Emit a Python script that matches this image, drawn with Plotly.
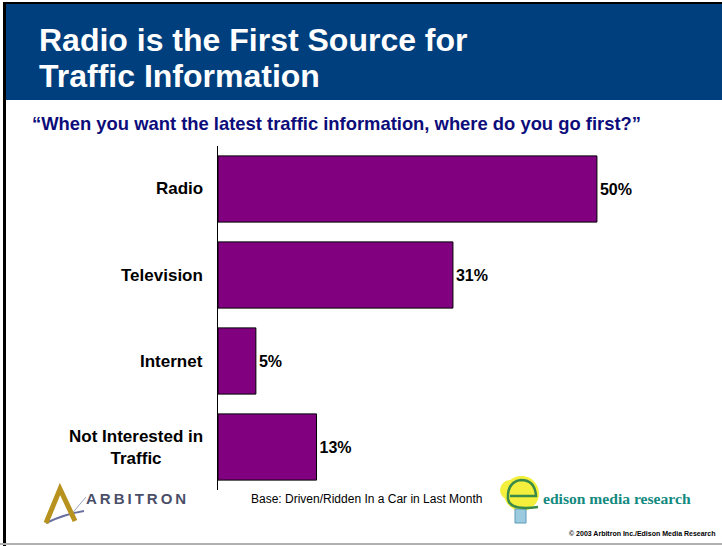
import plotly.graph_objects as go

categories = ["Radio", "Television", "Internet", "Not Interested in<br>Traffic"]
values = [50, 31, 5, 13]
value_labels = ["50%", "31%", "5%", "13%"]

W, H = 722, 546
def px(x):
    return x / W
def py(y):
    return 1 - y / H

BAR_COLOR = "#800080"
NAVY = "#003f7d"
FONT = "Liberation Sans, Arial, sans-serif"

fig = go.Figure()
fig.add_trace(go.Bar(
    y=categories, x=values, orientation="h",
    marker=dict(color=BAR_COLOR, line=dict(color="black", width=1)),
    width=0.77,
    text=value_labels, textposition="outside", cliponaxis=False,
    textfont=dict(family=FONT, size=16, color="black", weight="bold"),
    hoverinfo="skip",
))

shapes = [
    # header band
    dict(type="rect", xref="paper", yref="paper", x0=px(4), x1=1.0, y0=py(100), y1=py(3),
         fillcolor=NAVY, line=dict(width=0), layer="below"),
    # top border
    dict(type="line", xref="paper", yref="paper", x0=px(3), x1=1.0, y0=py(3), y1=py(3),
         line=dict(color="black", width=2)),
    # left border
    dict(type="line", xref="paper", yref="paper", x0=px(4.5), x1=px(4.5), y0=py(2), y1=py(546),
         line=dict(color="black", width=3)),
    # bottom gray line
    dict(type="line", xref="paper", yref="paper", x0=0, x1=1, y0=py(544), y1=py(544),
         line=dict(color="#b0b0b0", width=2)),
    # Arbitron logo (A shape)
    dict(type="path", xref="paper", yref="paper",
         path=f"M {px(46)} {py(523)} Q {px(65)} {py(514)} {px(84)} {py(511)}",
         line=dict(color="#6a70a0", width=2)),
    dict(type="path", xref="paper", yref="paper",
         path=f"M {px(70)} {py(516)} L {px(86)} {py(497)}",
         line=dict(color="#a0a4c4", width=1)),
    dict(type="path", xref="paper", yref="paper",
         path=f"M {px(46)} {py(523)} L {px(60)} {py(489)} L {px(75)} {py(521)}",
         line=dict(color="#b8921e", width=5)),
    # Edison logo blob
    dict(type="circle", xref="paper", yref="paper", x0=px(504), x1=px(539), y0=py(511), y1=py(476),
         fillcolor="#f3ef3c", line=dict(width=0)),
    dict(type="circle", xref="paper", yref="paper", x0=px(500), x1=px(520), y0=py(500), y1=py(480),
         fillcolor="#f3ef3c", line=dict(width=0)),
    dict(type="rect", xref="paper", yref="paper", x0=px(515), x1=px(526), y0=py(523), y1=py(509),
         fillcolor="#9ccbe0", line=dict(color="#5a9ab8", width=1)),
    dict(type="path", xref="paper", yref="paper",
         path=f"M {px(510)} {py(496)} L {px(536)} {py(496)} Q {px(535)} {py(480)} {px(521)} {py(480)} Q {px(507)} {py(482)} {px(508)} {py(499)} Q {px(510)} {py(511)} {px(538)} {py(507)}",
         line=dict(color="#3a8a4a", width=2.5)),
]

annotations = [
    dict(text="Radio is the First Source for", x=px(37), y=py(40), xref="paper", yref="paper",
         xanchor="left", yanchor="middle", showarrow=False,
         font=dict(family=FONT, size=32, color="white", weight="bold")),
    dict(text="Traffic Information", x=px(37), y=py(76), xref="paper", yref="paper",
         xanchor="left", yanchor="middle", showarrow=False,
         font=dict(family=FONT, size=32, color="white", weight="bold")),
    dict(text="\u201cWhen you want the latest traffic information, where do you go first?\u201d",
         x=px(30), y=py(124), xref="paper", yref="paper", xanchor="left", yanchor="middle",
         showarrow=False, font=dict(family=FONT, size=18.4, color="#0c0c7a", weight="bold")),
    dict(text="\u2009".join("ARBITRON"), x=px(84), y=py(498), xref="paper", yref="paper", xanchor="left",
         yanchor="middle", showarrow=False,
         font=dict(family=FONT, size=15, color="#4a4e68", weight="bold")),
    dict(text="Base: Driven/Ridden In a Car in Last Month", x=px(249), y=py(499), xref="paper",
         yref="paper", xanchor="left", yanchor="middle", showarrow=False,
         font=dict(family=FONT, size=12, color="black")),
    dict(text="edison media research", x=px(541), y=py(498), xref="paper", yref="paper",
         xanchor="left", yanchor="middle", showarrow=False,
         font=dict(family="Liberation Serif, Times New Roman, serif", size=15.6, color="#138a80", weight="bold")),
    dict(text="\u00a9 2003 Arbitron Inc./Edison Media Research", x=px(718), y=py(533), xref="paper",
         yref="paper", xanchor="right", yanchor="middle", showarrow=False,
         font=dict(family=FONT, size=7, color="black", weight="bold")),
]

# category labels (centered multi-line, right edge near the axis)
for c in categories:
    annotations.append(dict(text=c, x=px(205), y=c, xref="paper", yref="y", xanchor="right",
                            yanchor="middle", align="center", showarrow=False,
                            font=dict(family=FONT, size=17, color="black", weight="bold")))

fig.update_layout(
    width=W, height=H,
    margin=dict(l=0, r=0, t=0, b=0),
    paper_bgcolor="white", plot_bgcolor="white",
    showlegend=False,
    shapes=shapes, annotations=annotations,
    xaxis=dict(domain=[px(218), px(700)], range=[0, 63.6], visible=False, fixedrange=True),
    yaxis=dict(domain=[py(490), py(146)], autorange="reversed", showticklabels=False,
               showline=True, linecolor="black", linewidth=1, ticks="", showgrid=False,
               zeroline=False, fixedrange=True),
)

fig.write_html("out.html", config={"displayModeBar": False},
               post_script="document.body.style.margin='0';document.body.style.overflow='hidden';")
